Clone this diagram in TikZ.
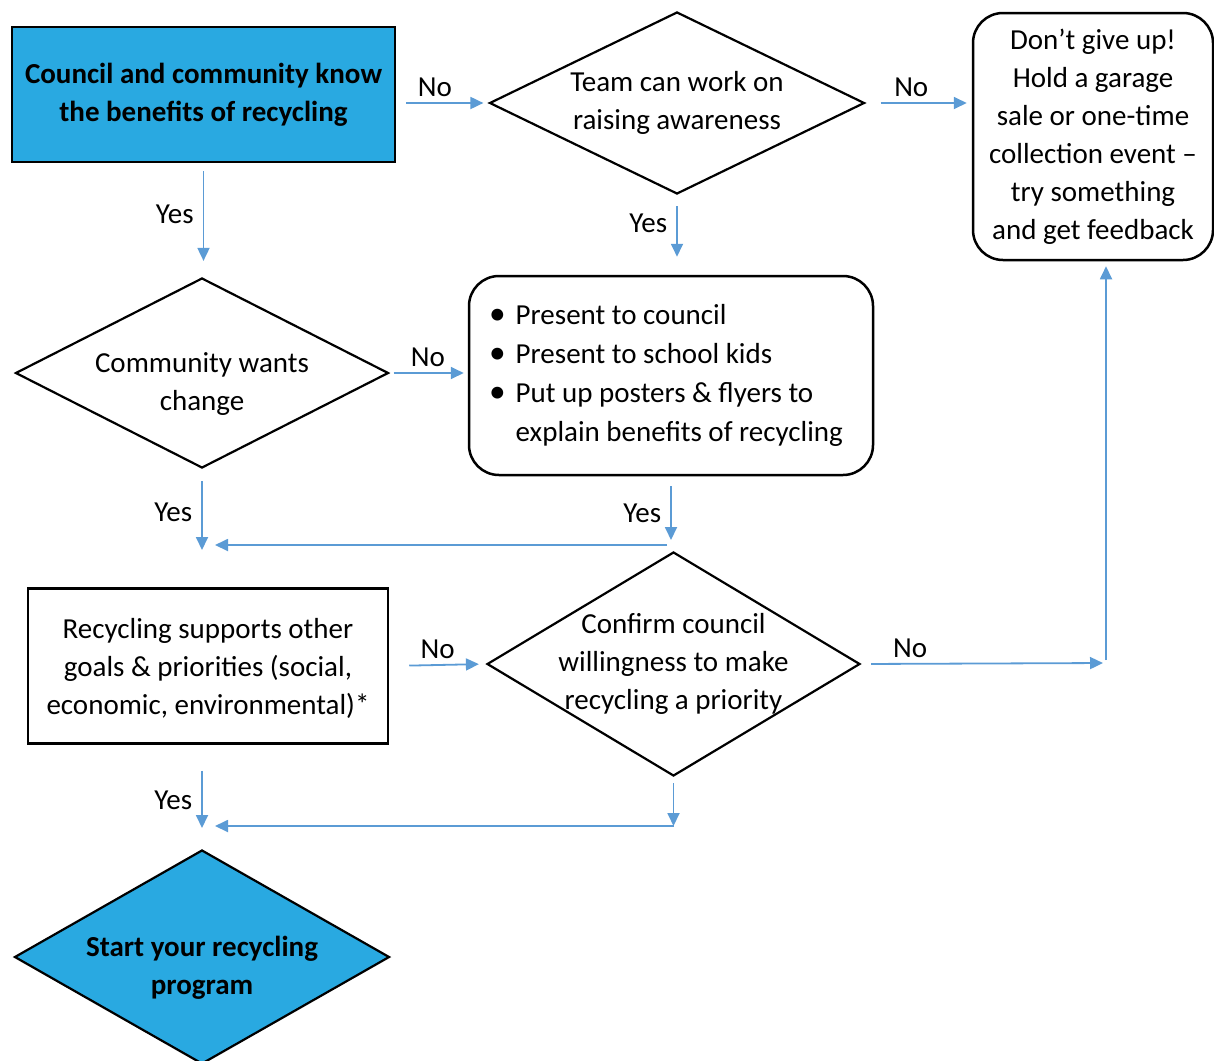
\documentclass[tikz,border=0pt]{standalone}
\usepackage{fontspec}
\setmainfont{Carlito}
\usetikzlibrary{arrows.meta,shapes.geometric}

\definecolor{azulcaja}{RGB}{41,169,225}
\definecolor{azulflecha}{RGB}{91,155,213}

\begin{document}
\begin{tikzpicture}[x=1pt,y=-1pt,
    font=\fontsize{29}{38}\selectfont,
    caja/.style={draw,line width=2.5pt,inner sep=0pt,align=center},
    redonda/.style={caja,rounded corners=30pt},
    rombo/.style={draw,diamond,line width=2.2pt,inner sep=0pt,align=center},
    conector/.style={draw=azulflecha,line width=1.8pt,-{Triangle[length=13pt,width=12pt]}},
    etiq/.style={inner sep=5pt}]

    \useasboundingbox (0,0) rectangle (1214,1060);

    % Cajas
    \node[caja,fill=azulcaja,minimum width=383pt,minimum height=135pt] (conocen) at (203.5,94.5)
        {\bfseries Council and community know\\\bfseries the benefits of recycling};
    \node[redonda,minimum width=240pt,minimum height=247pt] (norendirse) at (1093,136.5)
        {Don’t give up!\\Hold a garage\\sale or one-time\\collection event –\\try something\\and get feedback};
    \node[redonda,minimum width=404pt,minimum height=199pt] (acciones) at (671,375.5)
        {\fontsize{29}{39}\selectfont\hspace*{-10pt}%
         \begin{tabular}{@{}l@{\hspace{10pt}}l@{}}
            \scalebox{1.15}{\textbullet} & Present to council\\
            \scalebox{1.15}{\textbullet} & Present to school kids\\
            \scalebox{1.15}{\textbullet} & Put up posters \& flyers to\\
                        & explain benefits of recycling
        \end{tabular}};
    \node[caja,text height=100pt,text depth=3pt,minimum width=360pt,minimum height=155pt] (apoya) at (208,666)
        {Recycling supports other\\goals \& priorities (social,\\economic, environmental)*};

    % Rombos
    \node[rombo,aspect=2.06,minimum width=375pt,minimum height=182pt] (equipo) at (677,103)
        {Team can work on\\raising awareness};
    \node[rombo,aspect=1.96,inner xsep=-10pt,text height=80pt,text depth=5pt,minimum width=373pt,minimum height=190pt] (quiere) at (202,373)
        {Community wants\\change};
    \node[rombo,aspect=1.665,inner xsep=-15pt,inner ysep=-10pt,minimum width=373pt,minimum height=224pt] (confirma) at (673.5,664)
        {Confirm council\\willingness to make\\recycling a priority};
    \node[rombo,fill=azulcaja,aspect=1.75,inner xsep=-10pt,text height=80pt,text depth=5pt,minimum width=375pt,minimum height=214pt] (inicio) at (202,957)
        {\bfseries Start your recycling\\\bfseries program};

    % Puntos de union
    \coordinate (m1) at (202,545);
    \coordinate (m2) at (671,545);
    \coordinate (m3) at (202,828);
    \coordinate (m4) at (673.5,826);
    \coordinate (j1) at (1106,663);

    % Flechas
    \draw[conector,shorten <=10pt,shorten >=5pt] (conocen.east |- equipo.west) -- node[etiq,pos=0.42,above] (no1) {No} (equipo.west);
    \draw[conector,shorten <=15pt,shorten >=5pt] (equipo.east) -- node[etiq,pos=0.43,above] (no2) {No} (norendirse.west |- equipo.east);
    \draw[conector,shorten <=8pt,shorten >=16pt] (conocen.south) -- node[etiq,pos=0.45,left=4pt] (si1) {Yes} (conocen.south |- quiere.north);
    \draw[conector,shorten <=11pt,shorten >=18pt] (equipo.south) -- node[etiq,pos=0.35,left=4pt] (si2) {Yes} (equipo.south |- acciones.north);
    \draw[conector,shorten <=4pt,shorten >=4pt] (quiere.east) -- node[etiq,pos=0.49,above] (no3) {No} (acciones.west |- quiere.east);
    \draw[conector,shorten <=12pt,shorten >=-5pt] (quiere.south) -- node[etiq,pos=0.57,left=4pt] (si3) {Yes} (m1);
    \draw[conector,shorten <=10pt,shorten >=5pt] (acciones.south) -- node[etiq,pos=0.54,left=4pt] (si4) {Yes} (m2);
    \draw[conector,shorten <=4pt,shorten >=13pt] (m2) -- (m1);
    \draw[conector,shorten <=20pt,shorten >=7pt] (apoya.east) -- node[etiq,pos=0.5,above] (no4) {No} (confirma.west);
    \draw[conector,shorten <=10pt,shorten >=3pt] (confirma.east) -- node[etiq,pos=0.2,above] (no5) {No} (j1);
    \draw[conector,shorten <=3pt,shorten >=5pt] (j1) -- (j1 |- norendirse.south);
    \draw[conector,shorten <=26pt] (m3 |- apoya.south) -- node[etiq,pos=0.67,left=4pt] (si5) {Yes} (m3);
    \draw[conector,shorten <=6pt] (confirma.south) -- (m4);
    \draw[conector,shorten >=13pt] (m4) -- (m4 -| m3);
\end{tikzpicture}
\end{document}
